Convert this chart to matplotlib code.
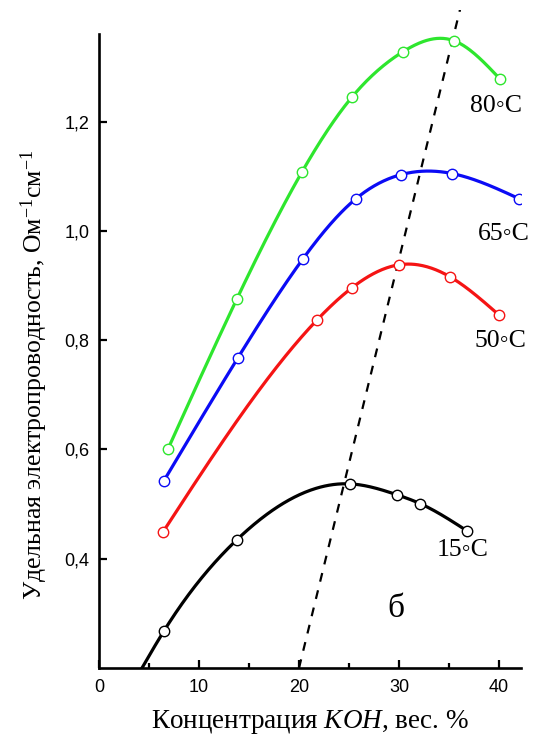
import numpy as np
import matplotlib
matplotlib.use("Agg")
import matplotlib.pyplot as plt
from matplotlib.ticker import FixedLocator, MultipleLocator, FuncFormatter

plt.rcParams["font.family"] = ["Liberation Serif", "DejaVu Sans"]
plt.rcParams["mathtext.fontset"] = "custom"
plt.rcParams["mathtext.rm"] = "Liberation Serif"
plt.rcParams["mathtext.it"] = "Liberation Serif:italic"

# KOH concentration (wt. %) and specific conductivity (Ohm^-1 cm^-1)
x_80 = [6.9, 13.8, 20.3, 25.3, 30.4, 35.5, 40.1]
y_80 = [0.601, 0.876, 1.108, 1.245, 1.328, 1.348, 1.278]

x_65 = [6.5, 13.9, 20.4, 25.7, 30.2, 35.3, 42.0]
y_65 = [0.543, 0.768, 0.949, 1.059, 1.103, 1.105, 1.059]

x_50 = [6.4, 21.8, 25.3, 30.0, 35.1, 40.0]
y_50 = [0.449, 0.837, 0.896, 0.938, 0.916, 0.846]

x_15 = [6.5, 13.8, 25.1, 29.8, 32.1, 36.8]
y_15 = [0.268, 0.435, 0.537, 0.517, 0.501, 0.451]
# the 15 °C curve is continued down to the axis
x_15_start, y_15_start = 4.3, 0.2

# locus of conductivity maxima
max_x = [20.0, 36.1]
max_y = [0.2, 1.405]


def natural_spline(xs, ys, xx):
    # natural cubic spline through the measured points
    x = np.asarray(xs, float)
    y = np.asarray(ys, float)
    n = len(x)
    h = np.diff(x)
    A = np.zeros((n, n))
    b = np.zeros(n)
    A[0, 0] = A[-1, -1] = 1.0
    for i in range(1, n - 1):
        A[i, i - 1] = h[i - 1]
        A[i, i] = 2 * (h[i - 1] + h[i])
        A[i, i + 1] = h[i]
        b[i] = 6 * ((y[i + 1] - y[i]) / h[i] - (y[i] - y[i - 1]) / h[i - 1])
    m = np.linalg.solve(A, b)
    k = np.clip(np.searchsorted(x, xx) - 1, 0, n - 2)
    t0 = x[k + 1] - xx
    t1 = xx - x[k]
    hk = h[k]
    return (m[k] * t0 ** 3 / (6 * hk) + m[k + 1] * t1 ** 3 / (6 * hk)
            + (y[k] / hk - m[k] * hk / 6) * t0
            + (y[k + 1] / hk - m[k + 1] * hk / 6) * t1)


series = [
    (x_80, y_80, x_80, y_80, "#2ee62e"),
    (x_65, y_65, x_65, y_65, "#0b0bf5"),
    (x_50, y_50, x_50, y_50, "#f51414"),
    (x_15, y_15, [x_15_start] + x_15, [y_15_start] + y_15, "black"),
]

fig = plt.figure(figsize=(5.39, 7.4), dpi=100)
ax = fig.add_axes([0.1837, 0.0973, 0.7829, 0.8897])

for xs, ys, kx, ky, color in series:
    xx = np.linspace(kx[0], kx[-1], 300)
    ax.plot(xx, natural_spline(kx, ky, xx), color=color, lw=2.3, zorder=2)
    ax.plot(xs, ys, "o", ms=7.5, mfc="white", mec=color, mew=1.0, zorder=3)

ax.plot(max_x, max_y, "--", color="black", lw=1.6, dashes=(4, 4), zorder=1)

label_pos = {
    "80◦C": (37.1, 1.228),
    "65◦C": (37.9, 0.994),
    "50◦C": (37.6, 0.798),
    "15◦C": (33.8, 0.416),
}
for text, (lx, ly) in label_pos.items():
    ax.text(lx, ly, text, fontsize=18.5, va="center", ha="left")
ax.text(28.8, 0.309, "б", fontsize=24, va="center", ha="left")

ax.set_xlim(0, 42.2)
ax.set_ylim(0.2, 1.405)
ax.spines["top"].set_visible(False)
ax.spines["right"].set_visible(False)
ax.spines["left"].set_bounds(0.2, 1.36)
ax.spines["left"].set_linewidth(1.9)
ax.spines["bottom"].set_linewidth(1.9)

ax.xaxis.set_major_locator(MultipleLocator(10))
ax.xaxis.set_minor_locator(MultipleLocator(5))
ax.yaxis.set_major_locator(FixedLocator([0.4, 0.6, 0.8, 1.0, 1.2]))
ax.xaxis.set_major_formatter(FuncFormatter(lambda v, p: f"{v:.0f}"))
ax.yaxis.set_major_formatter(FuncFormatter(lambda v, p: f"{v:.1f}".replace(".", ",")))
ax.tick_params(which="both", direction="in", width=1.6, labelsize=13)
ax.tick_params(which="major", length=6)
ax.tick_params(which="minor", length=3.5)
ax.tick_params(axis="x", pad=8)
ax.tick_params(axis="y", pad=7)
for lab in ax.get_xticklabels() + ax.get_yticklabels():
    lab.set_family("Liberation Sans")

ax.set_xlabel("Концентрация $\\mathit{KOH}$, вес. %", fontsize=19.5)
ax.xaxis.set_label_coords(0.50, -0.060)
ax.set_ylabel("Удельная электропроводность, Ом$^{-1}$см$^{-1}$", fontsize=18.5)
ax.yaxis.set_label_coords(-0.115, 0.445)

fig.savefig("out.png", dpi=100)
